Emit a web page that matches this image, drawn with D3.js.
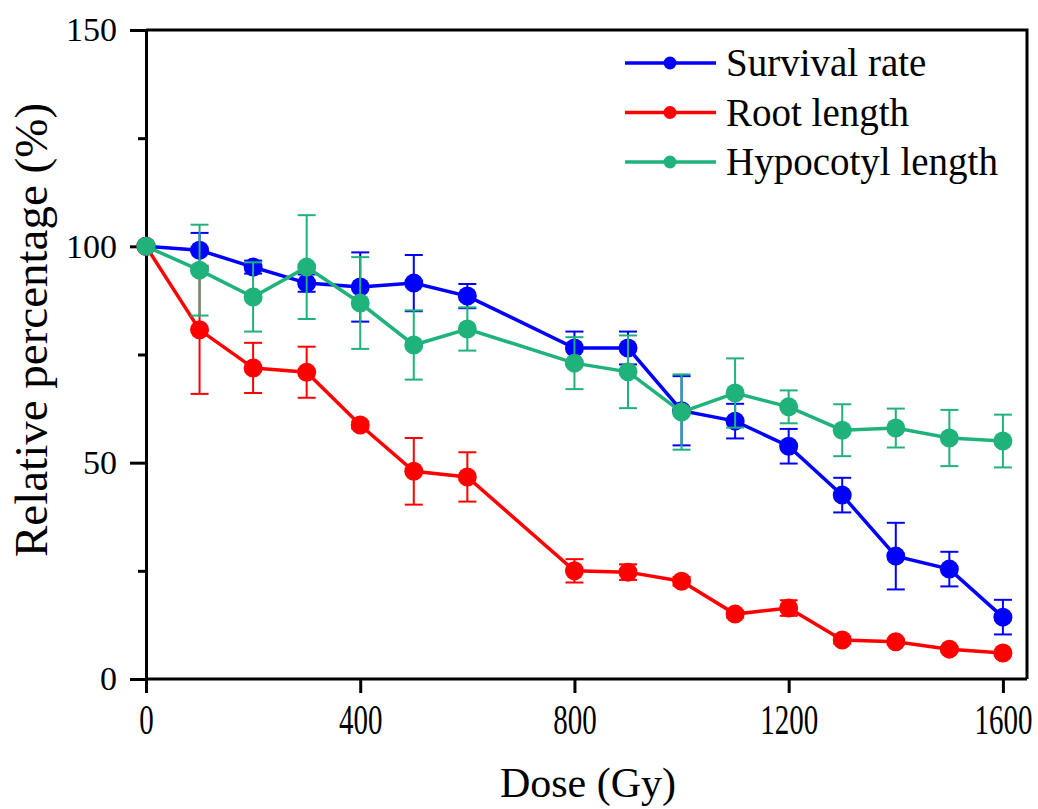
<!DOCTYPE html>
<html lang="en">
<head>
  <meta charset="UTF-8">
  <title>Relative percentage vs dose</title>
  <script src="https://d3js.org/d3.v7.min.js"></script>
  <style>
  body {
    margin: 0;
    background: #fff;
  }
  text {
    font-family: "Liberation Serif", "Times New Roman", serif;
    fill: #000;
  }
  .axis path,
  .axis line {
    fill: none;
    stroke: #000;
    stroke-width: 3px;
  }
  .line {
    fill: none;
    stroke-width: 3.5px;
  }
  </style>
</head>
<body>
  <div class="container"></div>
  <script>
  // dose levels (Gy)
  var doses = [0, 100, 200, 300, 400, 500, 600, 800, 900, 1000, 1100, 1200, 1300, 1400, 1500, 1600];
  var survival    = [100, 99.1, 95.2, 91.5, 90.6, 91.5, 88.5, 76.5, 76.5, 62.0, 59.6, 53.8, 42.5, 28.4, 25.4, 14.3];
  var survivalErr = [0, 4, 1.5, 2, 8, 6.5, 2.8, 3.8, 3.8, 8, 4, 4, 4, 7.7, 4, 4];
  var root        = [100, 80.7, 71.9, 70.9, 58.7, 48.0, 46.7, 25.0, 24.7, 22.6, 15.0, 16.4, 9.0, 8.6, 6.9, 6.0];
  var rootErr     = [0, 14.8, 5.8, 5.9, 0.8, 7.7, 5.7, 2.7, 1.8, 1.0, 0.8, 1.8, 0.8, 0.6, 0.5, 0.5];
  var hypo        = [100, 94.5, 88.3, 95.2, 86.9, 77.2, 80.9, 73.0, 71.0, 61.7, 66.1, 62.9, 57.5, 58.0, 55.7, 55.0];
  var hypoErr     = [0, 10.5, 8, 12, 10.6, 8, 5, 6, 8.4, 8.7, 8, 3.8, 6, 4.5, 6.5, 6.1];
  var seriesNames = ["Survival rate", "Root length", "Hypocotyl length"];
  var seriesColors = ["#0000ff", "#ff0000", "#1fb27a"];
  var xTicks = [0, 400, 800, 1200, 1600];
  var yTicks = [0, 50, 100, 150];
  var yMinor = [25, 75, 125];

  var w = 1038, h = 809,
      margin = {top: 30, right: 11, bottom: 130, left: 146};
  var g_w = w - margin.left - margin.right;
  var g_h = h - margin.top - margin.bottom;

  var xScale = d3.scaleLinear().domain([0, 1645]).range([0, g_w]);
  var yScale = d3.scaleLinear().domain([0, 150]).range([g_h, 0]);

  var svg = d3.select('.container').append('svg')
      .attr('width', w).attr('height', h);
  var g = svg.append('g')
      .attr('transform', 'translate(' + margin.left + ',' + margin.top + ')');

  // frame (top / right)
  g.append('path')
    .attr('d', 'M0,0H' + g_w + 'V' + g_h)
    .attr('fill', 'none').attr('stroke', '#000').attr('stroke-width', 3);

  // axes
  var xAxis = g.append('g').attr('class', 'x axis')
      .attr('transform', 'translate(0,' + g_h + ')')
      .call(d3.axisBottom(xScale).tickValues(xTicks).tickSize(14).tickSizeOuter(0)
        .tickFormat(d3.format('d')));
  xAxis.select('.domain').attr('d', 'M0,0H' + g_w);
  xAxis.selectAll('.tick text')
    .attr('y', 0).attr('dy', 0)
    .attr('transform', 'translate(0,55) scale(1,1.45)')
    .style('font-size', '29px');

  var yAxis = g.append('g').attr('class', 'y axis')
      .call(d3.axisLeft(yScale).tickValues(yTicks).tickSize(16).tickSizeOuter(0));
  yAxis.selectAll('.tick text')
    .attr('x', -29)
    .style('font-size', '34px');
  g.append('g').attr('class', 'y axis')
    .call(d3.axisLeft(yScale).tickValues(yMinor).tickSize(8).tickFormat(''))
    .select('.domain').remove();

  // axis titles
  svg.append('text')
    .attr('transform', 'translate(588,797)')
    .attr('text-anchor', 'middle')
    .style('font-size', '42px')
    .text('Dose (Gy)');
  svg.append('text')
    .attr('transform', 'translate(47,330) rotate(-90)')
    .attr('text-anchor', 'middle')
    .style('font-size', '47px')
    .text('Relative percentage (%)');

  var series = [
    {name: seriesNames[0], color: seriesColors[0], values: survival, err: survivalErr},
    {name: seriesNames[1], color: seriesColors[1], values: root, err: rootErr},
    {name: seriesNames[2], color: seriesColors[2], values: hypo, err: hypoErr}
  ];

  var line_generator = d3.line()
      .x(function(d) { return xScale(d.x); })
      .y(function(d) { return yScale(d.y); });

  series.forEach(function(s) {
    var pts = doses.map(function(x, i) { return {x: x, y: s.values[i], e: s.err[i]}; });
    var sg = g.append('g');
    // error bars
    var eb = sg.selectAll('.err').data(pts.filter(function(p) { return p.e > 0; }))
      .enter().append('g').attr('class', 'err')
      .attr('stroke', s.color).attr('stroke-width', 2);
    eb.append('line')
      .attr('x1', function(p) { return xScale(p.x); })
      .attr('x2', function(p) { return xScale(p.x); })
      .attr('y1', function(p) { return yScale(p.y + p.e); })
      .attr('y2', function(p) { return yScale(p.y - p.e); });
    [1, -1].forEach(function(sign) {
      eb.append('line')
        .attr('x1', function(p) { return xScale(p.x) - 9; })
        .attr('x2', function(p) { return xScale(p.x) + 9; })
        .attr('y1', function(p) { return yScale(p.y + sign * p.e); })
        .attr('y2', function(p) { return yScale(p.y + sign * p.e); });
    });
    sg.append('path').attr('class', 'line')
      .attr('stroke', s.color)
      .attr('d', line_generator(pts));
    sg.selectAll('circle').data(pts).enter().append('circle')
      .attr('cx', function(p) { return xScale(p.x); })
      .attr('cy', function(p) { return yScale(p.y); })
      .attr('r', 9.5)
      .attr('fill', s.color);
  });

  // legend
  var legend = svg.append('g').attr('transform', 'translate(625,63)');
  var items = legend.selectAll('g').data(series).enter().append('g')
      .attr('transform', function(d, i) { return 'translate(0,' + i * 49.5 + ')'; });
  items.append('line')
    .attr('x1', 0).attr('x2', 91)
    .attr('stroke', function(d) { return d.color; })
    .attr('stroke-width', 3.5);
  items.append('circle')
    .attr('cx', 45).attr('r', 6.5)
    .attr('fill', function(d) { return d.color; });
  items.append('text')
    .attr('x', 101).attr('dy', '0.34em')
    .style('font-size', '39px')
    .text(function(d) { return d.name; });
  </script>
</body>
</html>
